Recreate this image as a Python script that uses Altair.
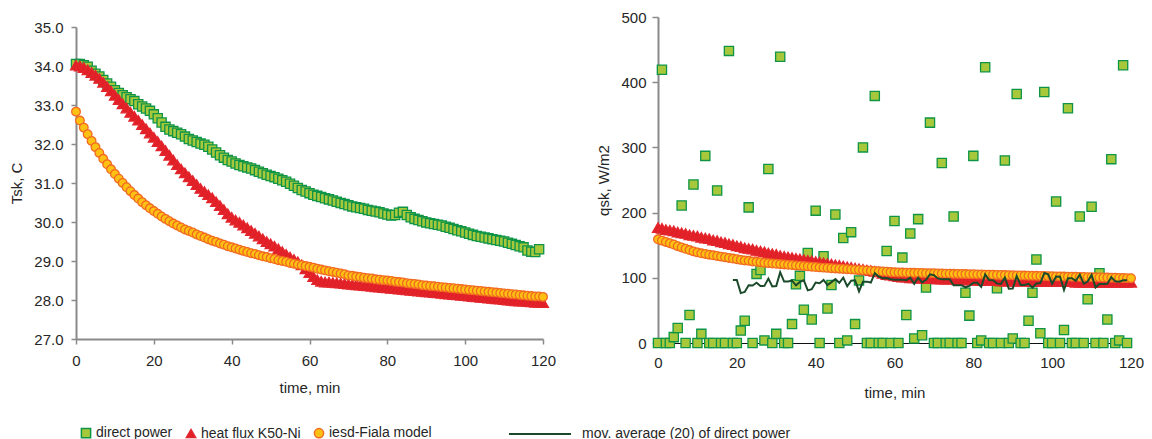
import altair as alt
import pandas as pd

# ---------------- data ----------------
TIME = list(range(121))                       # minutes, one sample per minute
SERIES = ["direct power", "heat flux K50-Ni", "iesd-Fiala model"]
MA_LABEL = "mov. average (20) of direct power"

X_TICKS = [0, 20, 40, 60, 80, 100, 120]
TSK_TICKS = [27, 28, 29, 30, 31, 32, 33, 34, 35]
Q_TICKS = [0, 50, 100, 150, 200, 250, 300, 350, 400, 450, 500]

# skin temperature, direct power (t = 0..119)
TSK_DIRECT = [
    34.05, 34.05, 34.02, 33.98, 33.88, 33.80, 33.73, 33.64, 33.55, 33.47,
    33.38, 33.31, 33.25, 33.20, 33.15, 33.10, 33.02, 32.96, 32.91, 32.85,
    32.76, 32.66, 32.55, 32.44, 32.37, 32.33, 32.29, 32.25, 32.19, 32.13,
    32.09, 32.05, 32.01, 31.98, 31.93, 31.86, 31.78, 31.71, 31.65, 31.59,
    31.55, 31.50, 31.46, 31.43, 31.40, 31.37, 31.33, 31.29, 31.25, 31.21,
    31.18, 31.15, 31.11, 31.07, 31.03, 30.98, 30.93, 30.87, 30.82, 30.78,
    30.74, 30.70, 30.67, 30.64, 30.61, 30.58, 30.55, 30.52, 30.49, 30.46,
    30.43, 30.40, 30.38, 30.36, 30.34, 30.31, 30.29, 30.27, 30.25, 30.22,
    30.19, 30.17, 30.18, 30.24, 30.26, 30.18, 30.12, 30.08, 30.05, 30.02,
    29.99, 29.97, 29.95, 29.93, 29.91, 29.88, 29.85, 29.82, 29.79, 29.76,
    29.73, 29.70, 29.67, 29.64, 29.62, 29.60, 29.58, 29.56, 29.54, 29.52,
    29.50, 29.47, 29.44, 29.41, 29.38, 29.35, 29.27, 29.24, 29.23, 29.30,
]

# skin temperature, heat flux sensor K50-Ni (t = 0..120)
TSK_FLUX = [
    34.02, 34.00, 33.96, 33.90, 33.83, 33.76, 33.68, 33.58, 33.47, 33.36,
    33.25, 33.14, 33.03, 32.92, 32.81, 32.71, 32.61, 32.50, 32.39, 32.28,
    32.17, 32.06, 31.95, 31.83, 31.71, 31.59, 31.47, 31.36, 31.26, 31.16,
    31.06, 30.96, 30.86, 30.78, 30.70, 30.62, 30.52, 30.42, 30.32, 30.21,
    30.12, 30.05, 29.99, 29.92, 29.85, 29.78, 29.71, 29.64, 29.57, 29.50,
    29.44, 29.38, 29.31, 29.24, 29.17, 29.10, 29.04, 28.98, 28.90, 28.80,
    28.70, 28.60, 28.52, 28.48, 28.46, 28.46, 28.45, 28.44, 28.43, 28.42,
    28.41, 28.40, 28.39, 28.38, 28.37, 28.36, 28.35, 28.34, 28.33, 28.32,
    28.31, 28.30, 28.29, 28.28, 28.27, 28.26, 28.25, 28.24, 28.23, 28.22,
    28.21, 28.20, 28.19, 28.18, 28.17, 28.16, 28.15, 28.14, 28.13, 28.12,
    28.11, 28.10, 28.09, 28.08, 28.07, 28.06, 28.05, 28.04, 28.03, 28.02,
    28.01, 28.00, 27.99, 27.98, 27.97, 27.97, 27.96, 27.95, 27.94, 27.94,
    27.93,
]

# skin temperature, iesd-Fiala model (t = 0..120)
TSK_FIALA = [
    32.83, 32.60, 32.42, 32.25, 32.08, 31.92, 31.77, 31.62, 31.48, 31.35,
    31.23, 31.11, 31.00, 30.89, 30.79, 30.69, 30.60, 30.51, 30.43, 30.35,
    30.28, 30.21, 30.14, 30.08, 30.02, 29.96, 29.91, 29.86, 29.81, 29.77,
    29.73, 29.68, 29.64, 29.60, 29.56, 29.52, 29.49, 29.45, 29.42, 29.38,
    29.35, 29.32, 29.29, 29.26, 29.23, 29.20, 29.18, 29.15, 29.12, 29.10,
    29.07, 29.05, 29.02, 29.00, 28.98, 28.95, 28.93, 28.91, 28.89, 28.87,
    28.85, 28.83, 28.80, 28.78, 28.76, 28.74, 28.72, 28.70, 28.68, 28.66,
    28.63, 28.62, 28.60, 28.59, 28.57, 28.56, 28.55, 28.53, 28.52, 28.51,
    28.50, 28.49, 28.47, 28.46, 28.45, 28.43, 28.42, 28.41, 28.40, 28.38,
    28.37, 28.36, 28.35, 28.34, 28.33, 28.32, 28.31, 28.30, 28.29, 28.28,
    28.27, 28.26, 28.25, 28.24, 28.23, 28.22, 28.21, 28.20, 28.19, 28.18,
    28.17, 28.16, 28.15, 28.14, 28.13, 28.12, 28.11, 28.10, 28.09, 28.09,
    28.08,
]

# skin heat flux, direct power (t = 0..119)
Q_DIRECT = [
    0, 419, 0, 0, 9, 23, 211, 0, 43, 243,
    0, 14, 287, 0, 0, 234, 0, 0, 448, 0,
    0, 19, 34, 208, 0, 106, 112, 4, 267, 0,
    14, 439, 0, 0, 29, 90, 103, 51, 138, 36,
    203, 0, 133, 53, 89, 197, 0, 161, 4, 170,
    29, 96, 300, 0, 0, 379, 0, 0, 141, 0,
    187, 0, 131, 43, 168, 7, 190, 12, 85, 338,
    0, 0, 276, 0, 0, 194, 0, 0, 77, 42,
    287, 0, 4, 423, 0, 0, 84, 0, 280, 0,
    7, 382, 0, 0, 34, 77, 128, 15, 385, 0,
    0, 217, 0, 20, 360, 0, 0, 194, 0, 67,
    209, 0, 107, 0, 36, 282, 0, 4, 426, 0,
]

# skin heat flux, heat flux sensor K50-Ni (t = 0..120)
Q_FLUX = [
    177, 176, 174, 173, 172, 170, 169, 168, 166, 165,
    164, 162, 161, 160, 158, 157, 155, 154, 152, 151,
    149, 148, 146, 145, 144, 142, 141, 140, 138, 137,
    136, 134, 133, 132, 131, 130, 129, 128, 127, 126,
    125, 124, 123, 122, 121, 120, 119, 118, 117, 116,
    115, 114, 113, 112, 111, 110, 109, 107, 105, 104,
    103, 102, 101, 101, 100, 100, 100, 99, 99, 99,
    99, 98, 98, 98, 98, 98, 97, 97, 97, 97,
    97, 96, 96, 96, 96, 96, 96, 95, 95, 95,
    95, 95, 95, 95, 95, 94, 94, 94, 94, 94,
    94, 94, 94, 94, 94, 94, 93, 93, 93, 93,
    93, 93, 93, 93, 93, 93, 93, 93, 93, 93,
    93,
]

# skin heat flux, iesd-Fiala model (t = 0..120)
Q_FIALA = [
    159, 157, 155, 153, 151, 148.5, 146.5, 144.5, 142.5, 140.5,
    139, 137.5, 136.5, 135.5, 134.5, 133.5, 132.5, 131.5, 130.5, 129.5,
    128.5, 127.5, 126.5, 126, 125, 124.5, 124, 123, 122.5, 122,
    121.5, 121, 120.5, 120, 119.5, 119, 118.5, 118, 117.5, 117,
    116.5, 116, 115.6, 115.2, 114.8, 114.4, 114, 113.6, 113.2, 112.8,
    112.4, 112, 111.6, 111.2, 110.8, 110.4, 110, 109.6, 109.2, 108.8,
    108.4, 108.2, 108, 107.9, 107.7, 107.6, 107.4, 107.3, 107.1, 107,
    106.9, 106.7, 106.6, 106.4, 106.3, 106.1, 106, 105.8, 105.7, 105.5,
    105.4, 105.2, 105.1, 104.9, 104.8, 104.6, 104.5, 104.3, 104.2, 104,
    103.9, 103.7, 103.6, 103.4, 103.3, 103.1, 103, 102.8, 102.7, 102.5,
    102.4, 102.2, 102.1, 101.9, 101.8, 101.6, 101.5, 101.3, 101.2, 101,
    100.9, 100.7, 100.6, 100.4, 100.3, 100.1, 100, 99.8, 99.7, 99.5,
    99.4,
]

# ---------------- styling ----------------
FILLS = ["#a8c83c", "#e11f26", "#fdc113"]
STROKES = ["#0d9447", "#e3262d", "#f26a21"]
SHAPES = ["square", "triangle-up", "circle"]
MARK_SIZES = [85, 120, 75]
MA_COLOR = "#1b4a2b"
TEXT = "#262626"
AXIS_GREY = "#8a8a8a"
FONT = "Liberation Sans"


def long_frame(values_by_series, name):
    rows = []
    for s, vals in zip(SERIES, values_by_series):
        for t, v in zip(TIME, vals):
            rows.append({"t": t, name: v, "series": s})
    return pd.DataFrame(rows)


left_df = long_frame([TSK_DIRECT, TSK_FLUX, TSK_FIALA], "tsk")
right_df = long_frame([Q_DIRECT, Q_FLUX, Q_FIALA], "q")

marker_legend = alt.Legend(
    title=None, orient="none", legendX=3, legendY=399, direction="horizontal",
    symbolSize=85, symbolStrokeWidth=1.5, labelFontSize=14, labelOffset=3,
    columnPadding=10, labelColor=TEXT, labelFont=FONT, padding=0, labelLimit=0,
)
fill_enc = alt.Fill("series:N", sort=SERIES,
                    scale=alt.Scale(domain=SERIES, range=FILLS), legend=marker_legend)
stroke_enc = alt.Stroke("series:N", sort=SERIES,
                        scale=alt.Scale(domain=SERIES, range=STROKES), legend=marker_legend)
shape_enc = alt.Shape("series:N", sort=SERIES,
                      scale=alt.Scale(domain=SERIES, range=SHAPES), legend=marker_legend)


def marker_layers(base):
    """one layer per series (drawn in series order) so that each keeps its own marker size"""
    return [
        base.transform_filter(alt.datum.series == s)
        .mark_point(filled=True, opacity=1, strokeWidth=1.3, size=sz)
        for s, sz in zip(SERIES, MARK_SIZES)
    ]


x_axis_left = alt.Axis(values=X_TICKS, title="time, min", labelFlush=False,
                       domainColor=AXIS_GREY, domainWidth=2, tickColor=AXIS_GREY,
                       tickWidth=1.5, tickSize=5, labelPadding=9, titlePadding=12)
y_axis_left = alt.Axis(values=TSK_TICKS, format=".1f", title="Tsk, C",
                       domainColor=AXIS_GREY, domainWidth=2, tickColor=AXIS_GREY,
                       tickWidth=1.5, tickSize=5, labelPadding=8, titlePadding=9)

left_base = alt.Chart(left_df).encode(
    x=alt.X("t:Q", scale=alt.Scale(domain=[0, 120], nice=False), axis=x_axis_left),
    y=alt.Y("tsk:Q", scale=alt.Scale(domain=[27, 35], nice=False, zero=False), axis=y_axis_left),
    fill=fill_enc, stroke=stroke_enc, shape=shape_enc,
)
left = alt.layer(*marker_layers(left_base)).properties(width=467, height=312)

# right panel: its plot reaches 10 px higher than the left one and 4 px lower
RIGHT_H = 316
x_axis_right = alt.Axis(values=X_TICKS, title="time, min", labelFlush=False,
                        domainColor="#111111", domainWidth=1, ticks=False,
                        labelPadding=12, titlePadding=15)
y_axis_right = alt.Axis(values=Q_TICKS, format="d", title="qsk, W/m2",
                        domainColor=AXIS_GREY, domainWidth=2, tickColor=AXIS_GREY,
                        tickWidth=1.5, tickSize=6, labelPadding=6, titlePadding=9)
y_scale_right = alt.Scale(domain=[0, 500], nice=False, range=[RIGHT_H, -10])

right_base = alt.Chart(right_df).encode(
    x=alt.X("t:Q", scale=alt.Scale(domain=[0, 120], nice=False), axis=x_axis_right),
    y=alt.Y("q:Q", scale=y_scale_right, axis=y_axis_right),
    fill=fill_enc, stroke=stroke_enc, shape=shape_enc,
)

right_ma = (
    alt.Chart(right_df)
    .transform_filter(alt.datum.series == SERIES[0])
    .transform_window(ma="mean(q)", frame=[-19, 0], sort=[alt.SortField("t")])
    .transform_filter(alt.datum.t >= 19)
    .transform_calculate(label=f"'{MA_LABEL}'")
    .mark_line(strokeWidth=2)
    .encode(
        x="t:Q",
        y="ma:Q",
        color=alt.Color("label:N", scale=alt.Scale(domain=[MA_LABEL], range=[MA_COLOR]),
                        legend=alt.Legend(title=None, orient="none", legendX=432, legendY=375,
                                          symbolType="stroke", symbolSize=3844,
                                          symbolStrokeWidth=2, labelOffset=10,
                                          labelFontSize=14, labelColor=TEXT, labelLimit=0,
                                          labelFont=FONT, padding=0)),
    )
)

right = alt.layer(*marker_layers(right_base), right_ma).properties(width=473, height=RIGHT_H)

chart = (
    alt.hconcat(left, right, spacing=40)
    .resolve_scale(fill="shared", stroke="shared", shape="shared")
    .properties(padding={"left": 9, "top": 10, "right": 5, "bottom": 5})
    .configure_view(stroke=None)
    .configure_axis(grid=False, labelFont=FONT, titleFont=FONT, labelFontSize=15,
                    titleFontSize=15, labelColor=TEXT, titleColor=TEXT,
                    titleFontWeight="normal")
)

chart.save("out.html", embed_options={"renderer": "svg", "actions": False})
